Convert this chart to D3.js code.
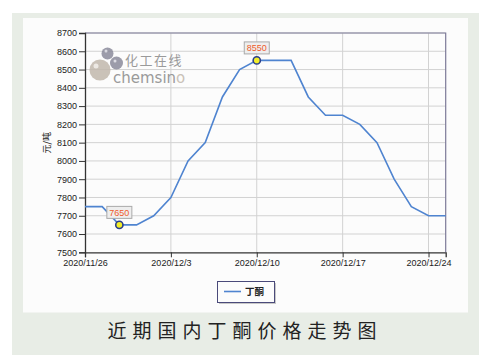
<!DOCTYPE html>
<html>
<head>
<meta charset="utf-8">
<script src="https://cdn.jsdelivr.net/npm/d3@7"></script>
<style>
  body { margin: 0; background: #fff; }
  svg { display: block; font-family: "Liberation Sans", Arial, sans-serif; }
</style>
</head>
<body>
<div id="chart"></div>
<script>
// trading days and prices
const dates = ["2020/11/26", "2020/11/27", "2020/11/30", "2020/12/1", "2020/12/2", "2020/12/3", "2020/12/4",
  "2020/12/7", "2020/12/8", "2020/12/9", "2020/12/10", "2020/12/11", "2020/12/14", "2020/12/15", "2020/12/16",
  "2020/12/17", "2020/12/18", "2020/12/21", "2020/12/22", "2020/12/23", "2020/12/24", "2020/12/25"]
const prices = [7750, 7750, 7650, 7650, 7700, 7800, 8000, 8100, 8350, 8500, 8550, 8550, 8550, 8350, 8250,
  8250, 8200, 8100, 7900, 7750, 7700, 7700]
const xTickLabels = ["2020/11/26", "2020/12/3", "2020/12/10", "2020/12/17", "2020/12/24"]
const yTicks = [7500, 7600, 7700, 7800, 7900, 8000, 8100, 8200, 8300, 8400, 8500, 8600, 8700]
const markedDates = ["2020/11/30", "2020/12/10"]
const seriesName = "丁酮"
const title = "近期国内丁酮价格走势图"

const width = 496, height = 364
const plot = { left: 85, right: 445.7, top: 33, bottom: 252.3 }

let svg = d3.select("#chart")
  .append("svg")
    .attr("width", width)
    .attr("height", height)

// backgrounds
svg.append("rect").attr("x", 12).attr("y", 13).attr("width", 467).attr("height", 342).attr("fill", "#e8ede6")
svg.append("rect").attr("x", 23).attr("y", 18).attr("width", 445).attr("height", 294.5).attr("fill", "#fcfcfc")

const x = d3.scalePoint().domain(dates).range([plot.left, plot.right])
const y = d3.scaleLinear().domain([7500, 8700]).range([plot.bottom, plot.top])

// grid
svg.append("g")
  .selectAll("line")
  .data(yTicks.slice(1))
  .join("line")
    .attr("x1", plot.left).attr("x2", plot.right)
    .attr("y1", d => y(d)).attr("y2", d => y(d))
    .attr("stroke", "#d2d2d2").attr("stroke-width", 1)

svg.append("g")
  .selectAll("line")
  .data(xTickLabels.slice(1))
  .join("line")
    .attr("x1", d => x(d)).attr("x2", d => x(d))
    .attr("y1", plot.top).attr("y2", plot.bottom)
    .attr("stroke", "#d2d2d2").attr("stroke-width", 1)

// watermark logo
let wm = svg.append("g").attr("opacity", 0.85)
wm.append("circle").attr("cx", 100).attr("cy", 70).attr("r", 10.5).attr("fill", "#c2b8ad")
wm.append("circle").attr("cx", 107.5).attr("cy", 53.5).attr("r", 6).attr("fill", "#8c8c9c")
wm.append("circle").attr("cx", 116.5).attr("cy", 63).attr("r", 6.5).attr("fill", "#8c8c9c")
wm.append("circle").attr("cx", 96).attr("cy", 66).attr("r", 2.5).attr("fill", "#ebe6e0")
wm.append("circle").attr("cx", 106).attr("cy", 51).attr("r", 1.5).attr("fill", "#d8d8e0")
wm.append("circle").attr("cx", 115).attr("cy", 61).attr("r", 1.5).attr("fill", "#d8d8e0")
wm.append("text").attr("x", 125).attr("y", 64.5).attr("font-size", 13)
  .attr("font-family", "Noto Sans CJK SC").attr("letter-spacing", 1.5)
  .attr("fill", "#8a8a8a").text("化工在线")
let cs = wm.append("text").attr("x", 113).attr("y", 83).attr("font-size", 15)
  .attr("font-family", "DejaVu Sans").attr("fill", "#8a8a8a")
cs.append("tspan").text("chemsin")
cs.append("tspan").attr("fill", "#c2b8ad").text("o")

// plot frame top / right
svg.append("path")
  .attr("d", `M${plot.left},${plot.top}H${plot.right}V${plot.bottom}`)
  .attr("fill", "none").attr("stroke", "#7c7a98").attr("stroke-width", 1.2)

// axes
const yAxis = d3.axisLeft(y).tickValues(yTicks).tickSize(6).tickPadding(2).tickFormat(d3.format("d"))
const gy = svg.append("g").attr("transform", `translate(${plot.left},0)`).call(yAxis)
gy.select(".domain").attr("stroke", "#333").attr("stroke-width", 1.3)
gy.selectAll(".tick line").attr("stroke", "#333")
gy.selectAll("text").attr("font-size", 9).attr("fill", "#222").attr("font-family", "Liberation Sans Narrow, Liberation Sans")

const xAxis = d3.axisBottom(x).tickValues(xTickLabels).tickSize(5).tickPadding(2)
const gx = svg.append("g").attr("transform", `translate(0,${plot.bottom})`).call(xAxis)
gx.select(".domain").attr("stroke", "#333").attr("stroke-width", 1.3)
gx.selectAll(".tick line").attr("stroke", "#333")
gx.selectAll("text").attr("font-size", 9).attr("fill", "#222").attr("font-family", "Liberation Sans Narrow, Liberation Sans")

// y axis title
svg.append("text")
  .attr("transform", `translate(50,${(plot.top + plot.bottom) / 2}) rotate(-90)`)
  .attr("text-anchor", "middle")
  .attr("font-size", 9).attr("fill", "#222")
  .attr("font-family", "Noto Sans CJK SC")
  .text("元/吨")

// line
const line = d3.line().x((d, i) => x(dates[i])).y(d => y(d))
svg.append("path")
  .datum(prices)
  .attr("d", line)
  .attr("fill", "none").attr("stroke", "#4f84d0").attr("stroke-width", 1.6)

// highlighted points with labels
const marks = markedDates.map(d => ({ date: d, value: prices[dates.indexOf(d)] }))
let mg = svg.append("g").selectAll("g").data(marks).join("g")
mg.append("rect")
  .attr("x", d => x(d.date) - 12.5).attr("y", d => y(d.value) - 18.5)
  .attr("width", 25).attr("height", 12)
  .attr("fill", "#eeeeee").attr("stroke", "#aaaaaa").attr("stroke-width", 1)
mg.append("text")
  .attr("x", d => x(d.date)).attr("y", d => y(d.value) - 9)
  .attr("text-anchor", "middle")
  .attr("font-size", 9).attr("fill", "#ee5a2a")
  .attr("font-family", "Liberation Sans Narrow, Liberation Sans")
  .text(d => d.value)
mg.append("circle")
  .attr("cx", d => x(d.date)).attr("cy", d => y(d.value)).attr("r", 3.6)
  .attr("fill", "#f2ee2a").attr("stroke", "#2b3f8c").attr("stroke-width", 1.6)

// legend
let lg = svg.append("g")
lg.append("rect").attr("x", 219).attr("y", 283).attr("width", 57).attr("height", 21).attr("fill", "#c8c8c8")
lg.append("rect").attr("x", 217.5).attr("y", 281.5).attr("width", 57).attr("height", 21)
  .attr("fill", "#fcfcfc").attr("stroke", "#4a4a7a").attr("stroke-width", 1)
lg.append("line").attr("x1", 224).attr("x2", 241).attr("y1", 291.5).attr("y2", 291.5)
  .attr("stroke", "#4f84d0").attr("stroke-width", 1.6)
lg.append("text").attr("x", 245).attr("y", 295).attr("font-size", 9.5).attr("fill", "#222")
  .attr("font-family", "Noto Sans CJK SC").attr("font-weight", "bold").text(seriesName)

// title
svg.append("text")
  .attr("x", 245).attr("y", 338)
  .attr("text-anchor", "middle")
  .attr("font-size", 19).attr("fill", "#222")
  .attr("letter-spacing", 6)
  .attr("font-family", "Noto Sans CJK SC")
  .text(title)
</script>
</body>
</html>
